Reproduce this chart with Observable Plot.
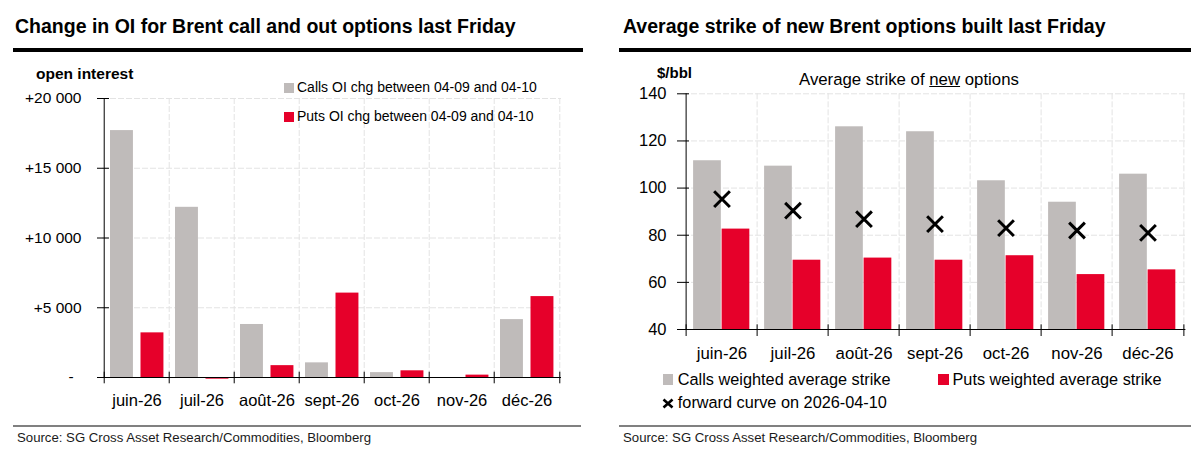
<!DOCTYPE html>
<html>
<head>
<meta charset="utf-8">
<script src="https://cdn.jsdelivr.net/npm/d3@7"></script>
<script src="https://cdn.jsdelivr.net/npm/@observablehq/plot@0.6"></script>
<style>
  html, body { margin: 0; padding: 0; background: #fff; }
  #root { position: relative; width: 1191px; height: 466px; overflow: hidden; background: #fff;
          font-family: "Liberation Sans", Arial, Helvetica, sans-serif; color: #000; }
  .abs { position: absolute; white-space: nowrap; line-height: 1; }
  .title { font-size: 19.5px; font-weight: bold; }
  .unit { font-weight: bold; }
  .rule { position: absolute; background: #000; }
  .grule { position: absolute; background: #808080; }
  .src { font-size: 13.2px; color: #1a1a1a; }
  .sw { position: absolute; }
  .chart { position: absolute; }
  .chart svg { overflow: visible; }
</style>
</head>
<body>
<div id="root">
  <div class="abs title" style="left:15px; top:16.8px;">Change in OI for Brent call and out options last Friday</div>
  <div class="rule" style="left:13px; top:48px; width:570px; height:3.5px;"></div>
  <div class="abs unit" style="left:36px; top:65.9px; font-size:15.5px;">open interest</div>

  <div class="abs title" style="left:623px; top:16.8px;">Average strike of new Brent options built last Friday</div>
  <div class="rule" style="left:619px; top:48px; width:572px; height:3.5px;"></div>
  <div class="abs unit" style="left:657px; top:64.6px; font-size:15px;">$/bbl</div>
  <div class="abs" style="left:799px; top:71.8px; font-size:16.8px;">Average strike of <span style="text-decoration:underline;">new</span> options</div>

  <div id="leftChart" class="chart" style="left:0px; top:60px;"></div>
  <div id="rightChart" class="chart" style="left:600px; top:60px;"></div>

  <div id="leftLegend"></div>
  <div id="rightLegend"></div>

  <div class="grule" style="left:13px; top:425px; width:568px; height:2.3px;"></div>
  <div class="grule" style="left:619px; top:425px; width:572px; height:2.3px;"></div>
  <div class="abs src" style="left:17px; top:431.3px;">Source: SG Cross Asset Research/Commodities, Bloomberg</div>
  <div class="abs src" style="left:623px; top:431.3px;">Source: SG Cross Asset Research/Commodities, Bloomberg</div>
</div>

<script>
// ---------- data ----------
const months = ["juin-26", "juil-26", "août-26", "sept-26", "oct-26", "nov-26", "déc-26"];

// Left chart: change in open interest
const callsOIChange = [17700, 12200, 3800, 1050, 350, 0, 4150];
const putsOIChange  = [3200, -120, 850, 6050, 480, 170, 5800];
const leftYTicks      = [0, 5000, 10000, 15000, 20000];
const leftYTickLabels = ["-\u2002", "+5 000", "+10 000", "+15 000", "+20 000"];
const leftSeriesNames = ["Calls OI chg between 04-09 and 04-10", "Puts OI chg between 04-09 and 04-10"];

// Right chart: average strike of new options
const callsAvgStrike = [111.6, 109.3, 126.0, 123.9, 103.1, 94.0, 105.9];
const putsAvgStrike  = [82.6, 69.4, 70.3, 69.4, 71.3, 63.3, 65.3];
const forwardCurve   = [95.3, 90.4, 86.8, 84.7, 83.0, 82.0, 81.0];
const rightYTicks      = [40, 60, 80, 100, 120, 140];
const rightYTickLabels = ["40", "60", "80", "100", "120", "140"];
const rightSeriesNames = ["Calls weighted average strike", "Puts weighted average strike", "forward curve on 2026-04-10"];

// ---------- styles ----------
const GREY = "#bfbbba";
const RED = "#e6002a";
const GRID = "#e3e3e3";
const FONT = "'Liberation Sans', Arial, Helvetica, sans-serif";

const leftRows = months.map((m, i) => ({month: m, calls: callsOIChange[i], puts: putsOIChange[i]}));
const rightRows = months.map((m, i) => ({month: m, calls: callsAvgStrike[i], puts: putsAvgStrike[i], fwd: forwardCurve[i]}));

// ---------- left chart ----------
{
  const W = 590, H = 360, mL = 102, mR = 29, mT = 38, mB = 43;
  const bw = (W - mL - mR) / months.length;
  const plotH = H - mT - mB;
  const barW = 23.5, outer = 6, gap = 7;
  const chart = Plot.plot({
    width: W, height: H,
    marginLeft: mL, marginRight: mR, marginTop: mT, marginBottom: mB,
    style: {fontFamily: FONT, color: "#000", background: "transparent"},
    x: {type: "band", domain: months, padding: 0, label: null},
    y: {domain: [0, 20000], label: null},
    marks: [
      Plot.gridY({ticks: leftYTicks, stroke: GRID, strokeOpacity: 1, strokeDasharray: "6,2"}),
      Plot.ruleX(months.slice(1), {x: d => d, dx: -bw / 2, stroke: GRID, strokeDasharray: "6,2"}),
      Plot.ruleX(months.slice(-1), {x: d => d, dx: bw / 2, stroke: GRID, strokeDasharray: "6,2"}),
      Plot.barY(leftRows, {x: "month", y: "calls", fill: GREY, insetLeft: outer, insetRight: bw - outer - barW}),
      Plot.barY(leftRows, {x: "month", y: "puts", fill: RED, insetLeft: outer + barW + gap, insetRight: bw - outer - 2 * barW - gap}),
      Plot.ruleX(months.slice(0, 1), {x: d => d, dx: -bw / 2, stroke: "#000"}),
      Plot.ruleY([0], {stroke: "#000"}),
      Plot.axisY({ticks: leftYTicks, tickSize: 12, dx: 7, tickFormat: () => "", label: null}),
      Plot.axisY({ticks: leftYTicks, tickSize: 0, tickPadding: 21, fontSize: 15.5,
                  tickFormat: d => leftYTickLabels[leftYTicks.indexOf(d)], label: null}),
      Plot.axisX({tickSize: 0, tickPadding: 17, fontSize: 16.5, label: null}),
      Plot.ruleX(months, {x: d => d, dx: -bw / 2, insetTop: plotH - 5.3, insetBottom: -6.3, stroke: "#000"}),
      Plot.ruleX(months.slice(-1), {x: d => d, dx: bw / 2, insetTop: plotH - 5.3, insetBottom: -6.3, stroke: "#000"})
    ]
  });
  document.getElementById("leftChart").appendChild(chart);
}

// ---------- right chart ----------
{
  const W = 591, H = 310, mL = 83, mR = 5.6, mT = 33.3, mB = 41;
  const bw = (W - mL - mR) / months.length;
  const plotH = H - mT - mB;
  const barW = 28.5, outer = 7.1;
  const chart = Plot.plot({
    width: W, height: H,
    marginLeft: mL, marginRight: mR, marginTop: mT, marginBottom: mB,
    style: {fontFamily: FONT, color: "#000", background: "transparent"},
    x: {type: "band", domain: months, padding: 0, label: null},
    y: {domain: [40, 140], label: null},
    marks: [
      Plot.gridY({ticks: rightYTicks, stroke: GRID, strokeOpacity: 1, strokeDasharray: "6,2"}),
      Plot.ruleX(months.slice(1), {x: d => d, dx: -bw / 2, stroke: GRID, strokeDasharray: "6,2"}),
      Plot.ruleX(months.slice(-1), {x: d => d, dx: bw / 2, stroke: GRID, strokeDasharray: "6,2"}),
      Plot.barY(rightRows, {x: "month", y1: 40, y2: "calls", fill: GREY, insetLeft: outer, insetRight: bw - outer - barW}),
      Plot.barY(rightRows, {x: "month", y1: 40, y2: "puts", fill: RED, insetLeft: outer + barW, insetRight: bw - outer - 2 * barW}),
      Plot.dot(rightRows, {x: "month", y: "fwd", symbol: "times", r: 7.2, stroke: "#000", strokeWidth: 3}),
      Plot.ruleX(months.slice(0, 1), {x: d => d, dx: -bw / 2, stroke: "#000"}),
      Plot.ruleY([40], {stroke: "#000"}),
      Plot.axisY({ticks: rightYTicks, tickSize: 12, dx: 6, tickFormat: () => "", label: null}),
      Plot.axisY({ticks: rightYTicks, tickSize: 0, tickPadding: 17, fontSize: 16.5,
                  tickFormat: d => rightYTickLabels[rightYTicks.indexOf(d)], label: null}),
      Plot.axisX({tickSize: 0, tickPadding: 17.4, fontSize: 16.8, label: null}),
      Plot.ruleX(months, {x: d => d, dx: -bw / 2, insetTop: plotH - 4.7, insetBottom: -7, stroke: "#000"}),
      Plot.ruleX(months.slice(-1), {x: d => d, dx: bw / 2, insetTop: plotH - 4.7, insetBottom: -7, stroke: "#000"})
    ]
  });
  document.getElementById("rightChart").appendChild(chart);
}

// ---------- legends ----------
function addSwatch(parent, left, top, w, h, color) {
  const d = document.createElement("div");
  d.className = "sw";
  d.style.cssText = `left:${left}px;top:${top}px;width:${w}px;height:${h}px;background:${color};`;
  parent.appendChild(d);
}
function addText(parent, left, top, size, text) {
  const d = document.createElement("div");
  d.className = "abs";
  d.style.cssText = `left:${left}px;top:${top}px;font-size:${size}px;`;
  d.textContent = text;
  parent.appendChild(d);
}
{
  const L = document.getElementById("leftLegend");
  addSwatch(L, 283.5, 83.3, 10.5, 9.5, GREY);
  addText(L, 297, 79.8, 14, leftSeriesNames[0]);
  addSwatch(L, 283.5, 112.3, 10.5, 9.5, RED);
  addText(L, 297, 108.8, 14, leftSeriesNames[1]);

  const R = document.getElementById("rightLegend");
  addSwatch(R, 662.5, 374, 10.3, 11, GREY);
  addText(R, 677.8, 370.5, 16.3, rightSeriesNames[0]);
  addSwatch(R, 938, 374, 10.7, 11, RED);
  addText(R, 952.5, 370.5, 16.3, rightSeriesNames[1]);
  const x = document.createElementNS("http://www.w3.org/2000/svg", "svg");
  x.setAttribute("width", "12"); x.setAttribute("height", "11");
  x.style.cssText = "position:absolute;left:662px;top:397.5px;";
  x.innerHTML = '<path d="M1.5,1.5L10.5,9.5M10.5,1.5L1.5,9.5" stroke="#000" stroke-width="2.6" fill="none"/>';
  R.appendChild(x);
  addText(R, 677.8, 393.5, 16.3, rightSeriesNames[2]);
}
</script>
</body>
</html>
